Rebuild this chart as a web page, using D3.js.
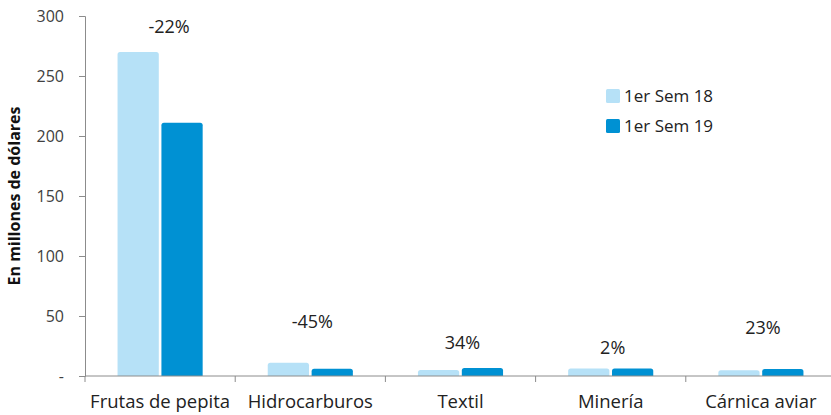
<!DOCTYPE html>
<html>
<head>
<meta charset="utf-8">
<script src="https://cdn.jsdelivr.net/npm/d3@7"></script>
<style>
  body { margin: 0; background: #fff; }
  svg { font-family: "Open Sans", sans-serif; }
</style>
</head>
<body>
<div id="chart"></div>
<script>
// Chart data
const categories = ["Frutas de pepita", "Hidrocarburos", "Textil", "Minería", "Cárnica aviar"];
const seriesNames = ["1er Sem 18", "1er Sem 19"];
const sem18 = [270, 11, 5, 6.2, 4.8];
const sem19 = [211, 6, 6.7, 6.3, 5.9];
const changeLabels = ["-22%", "-45%", "34%", "2%", "23%"];
const labelLevels = [291, 45, 27.5, 24, 40];
const yTicks = [0, 50, 100, 150, 200, 250, 300];

// Frame
const FRAME_WIDTH = 831;
const FRAME_HEIGHT = 415;
const MARGINS = {left: 85, right: -5, top: 16, bottom: 39};
const colors = ["#b6e1f7", "#0091d3"];

const svg = d3.select("#chart")
  .append("svg")
    .attr("width", FRAME_WIDTH)
    .attr("height", FRAME_HEIGHT);

// Scales
const X = d3.scaleBand()
  .domain(categories)
  .range([MARGINS.left, FRAME_WIDTH - MARGINS.right])
  .paddingInner(0.4333)
  .paddingOuter(0.2167);

const XS = d3.scaleBand()
  .domain(seriesNames)
  .range([0, X.bandwidth()])
  .paddingInner(0.06);

const Y = d3.scaleLinear()
  .domain([0, 300])
  .range([FRAME_HEIGHT - MARGINS.bottom, MARGINS.top]);

// Bars
const series = [sem18, sem19];
series.forEach((vals, s) => {
  svg.selectAll(".bar" + s)
    .data(categories)
    .enter()
    .append("path")
      .attr("fill", colors[s])
      .attr("d", (c, i) => {
        const x0 = X(c) + XS(seriesNames[s]);
        const w = XS.bandwidth();
        const y0 = Y(vals[i]);
        const yb = Y(0);
        const r = Math.min(2.5, (yb - y0) / 2);
        return "M" + x0 + "," + yb +
          "V" + (y0 + r) + "Q" + x0 + "," + y0 + " " + (x0 + r) + "," + y0 +
          "H" + (x0 + w - r) + "Q" + (x0 + w) + "," + y0 + " " + (x0 + w) + "," + (y0 + r) +
          "V" + yb + "Z";
      });
});

// Y axis
const yAxis = svg.append("g")
  .attr("transform", "translate(" + MARGINS.left + ",0)")
  .call(d3.axisLeft(Y).tickValues(yTicks).tickSize(6).tickPadding(15)
    .tickFormat(d => d === 0 ? "-" : d));
yAxis.selectAll("line, path").attr("stroke", "#8c8c8c");
yAxis.selectAll("text").attr("font-size", "16px").attr("fill", "#404040")
  .attr("font-family", "Open Sans, sans-serif");

// X axis
const xTickPos = categories.map(c => X(c) - X.step() * X.paddingInner() / 2);
const xAxis = svg.append("g")
  .attr("transform", "translate(0," + Y(0) + ")");
xAxis.append("line")
  .attr("x1", MARGINS.left).attr("x2", FRAME_WIDTH)
  .attr("stroke", "#8c8c8c");
xAxis.selectAll(".xt")
  .data(xTickPos)
  .enter()
  .append("line")
    .attr("x1", d => d).attr("x2", d => d)
    .attr("y1", 0).attr("y2", 6)
    .attr("stroke", "#8c8c8c");
xAxis.selectAll(".xl")
  .data(categories)
  .enter()
  .append("text")
    .attr("x", c => X(c) + X.bandwidth() / 2)
    .attr("y", 32)
    .attr("text-anchor", "middle")
    .attr("font-size", "18.5px")
    .attr("fill", "#222")
    .text(c => c);

// Change labels
svg.selectAll(".chg")
  .data(categories)
  .enter()
  .append("text")
    .attr("x", (c, i) => X(c) + X.bandwidth() / 2 + (i === 0 ? 9 : 2))
    .attr("y", (c, i) => Y(labelLevels[i]))
    .attr("dy", "0.35em")
    .attr("text-anchor", "middle")
    .attr("font-size", "18px")
    .attr("fill", "#222")
    .text((c, i) => changeLabels[i]);

// Y axis title
svg.append("text")
  .attr("transform", "translate(20," + Y(150) + ") rotate(-90)")
  .attr("text-anchor", "middle")
  .attr("font-size", "16px")
  .attr("font-weight", "bold")
  .attr("fill", "#111")
  .text("En millones de dólares");

// Legend
const legend = svg.append("g").attr("transform", "translate(606,89)");
seriesNames.forEach((name, i) => {
  legend.append("rect")
    .attr("x", 0).attr("y", i * 30)
    .attr("width", 14).attr("height", 14)
    .attr("rx", 1.5)
    .attr("fill", colors[i]);
  legend.append("text")
    .attr("x", 18).attr("y", i * 30 + 7)
    .attr("dy", "0.35em")
    .attr("font-size", "17px")
    .attr("fill", "#222")
    .text(name);
});
</script>
</body>
</html>
